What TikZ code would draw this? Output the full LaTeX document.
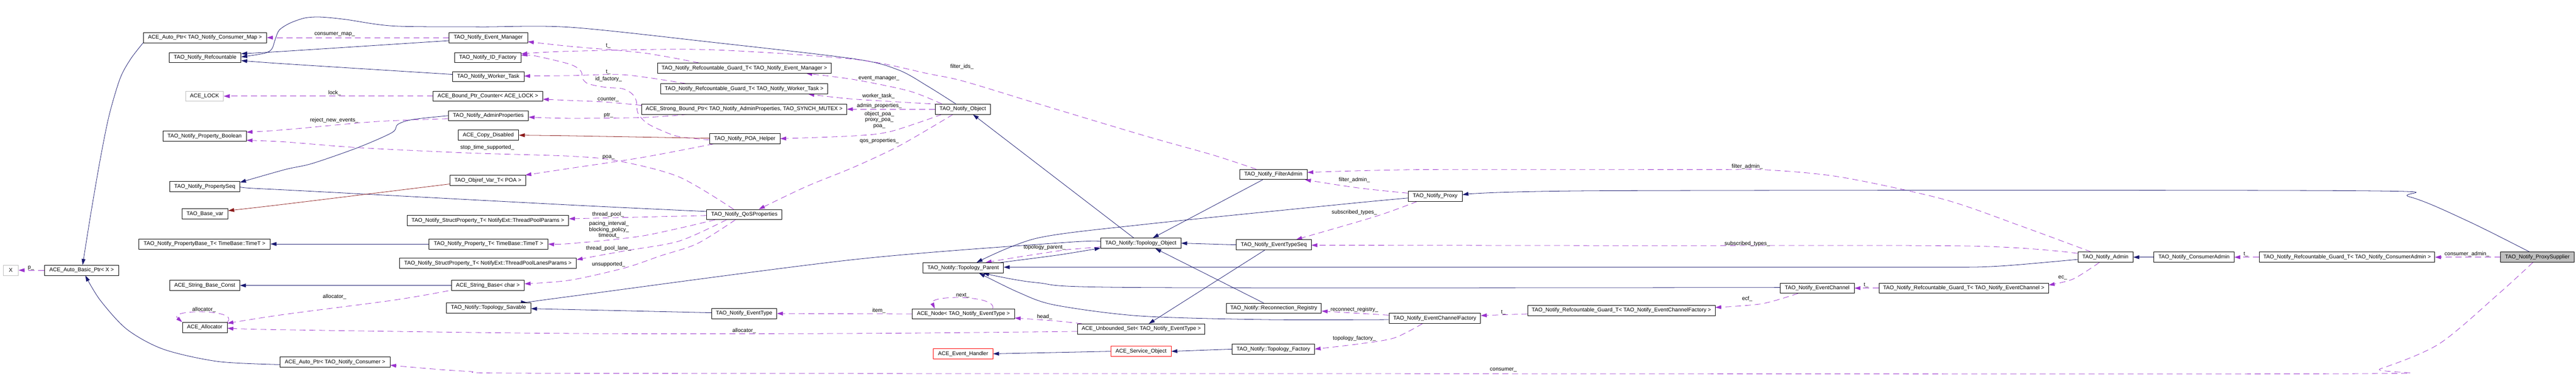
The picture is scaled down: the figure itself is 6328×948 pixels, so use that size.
\documentclass[tikz,border=0pt]{standalone}
\usepackage{fontspec}
\setmainfont{Liberation Sans}
\usetikzlibrary{arrows.meta,calc}
\pgfdeclarelayer{bg}
\pgfsetlayers{bg,main}
\definecolor{navy}{RGB}{25,25,112}
\definecolor{orch}{RGB}{154,50,205}
\definecolor{fbrick}{RGB}{139,26,26}
\definecolor{grey75}{RGB}{191,191,191}
\tikzset{
 box/.style={draw=black, line width=0.75pt, minimum height=18.75pt, inner sep=0pt, fill=white, font=\fontsize{10}{12}\selectfont},
 bw/.style={minimum width=#1*0.75pt},
 lbl/.style={inner sep=0pt, font=\fontsize{10}{11}\selectfont, align=center},
 conn/.style={line width=0.75pt, -{Triangle[length=11pt,width=7pt]}},
 inh/.style={conn, navy},
 prv/.style={conn, fbrick},
 use/.style={conn, orch, dash pattern=on 11pt off 7pt},
 sm/.style={smooth, tension=0.5}
}
\begin{document}
\begin{tikzpicture}[x=0.75pt,y=-0.75pt]
\useasboundingbox (0,0) rectangle (6328,948);
% ---- nodes
\node[box,bw=303] (AutoPtrCM) at (503.5,92.5) {ACE\_Auto\_Ptr< TAO\_Notify\_Consumer\_Map >};
\node[box,bw=176] (Refcountable) at (504,141.5) {TAO\_Notify\_Refcountable};
\node[box,bw=93,draw=grey75] (ACELOCK) at (502.5,236.5) {ACE\_LOCK};
\node[box,bw=205] (PropBool) at (502.5,335) {TAO\_Notify\_Property\_Boolean};
\node[box,bw=172] (PropSeq) at (503,458.5) {TAO\_Notify\_PropertySeq};
\node[box,bw=113] (BaseVar) at (503.5,526) {TAO\_Base\_var};
\node[box,bw=323] (PropBaseT) at (502.5,600) {TAO\_Notify\_PropertyBase\_T< TimeBase::TimeT >};
\node[box,bw=37,draw=grey75] (X) at (26.5,664.5) {X};
\node[box,bw=183] (AutoBasicPtr) at (200.5,664.5) {ACE\_Auto\_Basic\_Ptr< X >};
\node[box,bw=172] (StrBaseConst) at (503,702) {ACE\_String\_Base\_Const};
\node[box,bw=110] (Allocator) at (503,805) {ACE\_Allocator};
\node[box,bw=270] (AutoPtrC) at (823,890.5) {ACE\_Auto\_Ptr< TAO\_Notify\_Consumer >};
\node[box,bw=193] (EventManager) at (1199.5,92.5) {TAO\_Notify\_Event\_Manager};
\node[box,bw=163] (IDFactory) at (1198.5,141.5) {TAO\_Notify\_ID\_Factory};
\node[box,bw=175] (WorkerTask) at (1199.5,188.5) {TAO\_Notify\_Worker\_Task};
\node[box,bw=269] (BoundPtrCounter) at (1198.5,236.5) {ACE\_Bound\_Ptr\_Counter< ACE\_LOCK >};
\node[box,bw=197] (AdminProps) at (1199.5,284.5) {TAO\_Notify\_AdminProperties};
\node[box,bw=149] (CopyDisabled) at (1199.5,332.5) {ACE\_Copy\_Disabled};
\node[box,bw=187] (ObjrefVar) at (1198.5,443.5) {TAO\_Objref\_Var\_T< POA >};
\node[box,bw=397] (StructTP) at (1198.5,542.5) {TAO\_Notify\_StructProperty\_T< NotifyExt::ThreadPoolParams >};
\node[box,bw=292] (PropT) at (1200,600) {TAO\_Notify\_Property\_T< TimeBase::TimeT >};
\node[box,bw=435] (StructTPL) at (1198.5,647.5) {TAO\_Notify\_StructProperty\_T< NotifyExt::ThreadPoolLanesParams >};
\node[box,bw=179] (StrBaseChar) at (1198.5,702) {ACE\_String\_Base< char >};
\node[box,bw=208] (TopoSavable) at (1200,757) {TAO\_Notify::Topology\_Savable};
\node[box,bw=427] (GuardEM) at (1828.5,167.5) {TAO\_Notify\_Refcountable\_Guard\_T< TAO\_Notify\_Event\_Manager >};
\node[box,bw=410] (GuardWT) at (1828,218.5) {TAO\_Notify\_Refcountable\_Guard\_T< TAO\_Notify\_Worker\_Task >};
\node[box,bw=504] (StrongBP) at (1828,268.5) {ACE\_Strong\_Bound\_Ptr< TAO\_Notify\_AdminProperties, TAO\_SYNCH\_MUTEX >};
\node[box,bw=173] (POAHelper) at (1829.5,341) {TAO\_Notify\_POA\_Helper};
\node[box,bw=185] (QoS) at (1828.5,527.5) {TAO\_Notify\_QoSProperties};
\node[box,bw=160] (EventType) at (1828,771) {TAO\_Notify\_EventType};
\node[box,bw=136] (Object) at (2365,268.5) {TAO\_Notify\_Object};
\node[box,bw=198] (TopoParent) at (2366,658.5) {TAO\_Notify::Topology\_Parent};
\node[box,bw=251] (ACENode) at (2366.5,772) {ACE\_Node< TAO\_Notify\_EventType >};
\node[box,bw=146,draw=red] (EventHandler) at (2366,870) {ACE\_Event\_Handler};
\node[box,bw=197] (TopoObject) at (2802.5,598) {TAO\_Notify::Topology\_Object};
\node[box,bw=313] (UnbSet) at (2803.5,809) {ACE\_Unbounded\_Set< TAO\_Notify\_EventType >};
\node[box,bw=148,draw=red] (ServiceObject) at (2803,864) {ACE\_Service\_Object};
\node[box,bw=166] (FilterAdmin) at (3128,429) {TAO\_Notify\_FilterAdmin};
\node[box,bw=184] (EventTypeSeq) at (3129,602) {TAO\_Notify\_EventTypeSeq};
\node[box,bw=234] (ReconnReg) at (3129,758) {TAO\_Notify::Reconnection\_Registry};
\node[box,bw=202] (TopoFactory) at (3128,858.5) {TAO\_Notify::Topology\_Factory};
\node[box,bw=133] (Proxy) at (3525.5,482.5) {TAO\_Notify\_Proxy};
\node[box,bw=225] (ECF) at (3524.5,783) {TAO\_Notify\_EventChannelFactory};
\node[box,bw=460] (GuardECF) at (3983,763.5) {TAO\_Notify\_Refcountable\_Guard\_T< TAO\_Notify\_EventChannelFactory >};
\node[box,bw=182] (EventChannel) at (4464,708.5) {TAO\_Notify\_EventChannel};
\node[box,bw=416] (GuardEC) at (4824,708.5) {TAO\_Notify\_Refcountable\_Guard\_T< TAO\_Notify\_EventChannel >};
\node[box,bw=136] (Admin) at (5172,632.5) {TAO\_Notify\_Admin};
\node[box,bw=197] (ConsumerAdmin) at (5389.5,632.5) {TAO\_Notify\_ConsumerAdmin};
\node[box,bw=431] (GuardCA) at (5765.5,632.5) {TAO\_Notify\_Refcountable\_Guard\_T< TAO\_Notify\_ConsumerAdmin >};
\node[box,bw=180,fill=grey75] (ProxySupplier) at (6233,632.5) {TAO\_Notify\_ProxySupplier};
% ---- edges
\begin{pgfonlayer}{bg}
\draw[inh] plot[sm] coordinates {(AutoPtrCM.south west) (321,145) (295,193) (268,284) (246,393) (223,526) ($(AutoBasicPtr.north)+(2.5,0)$)};
\draw[inh] plot[sm] coordinates {($(AutoPtrC.west)+(0,6)$) (536,889) (402,859) (312,810) (246,738) ($(AutoBasicPtr.south)+(9,0)$)};
\draw[use] (AutoBasicPtr.west) -- (X.east);
\draw[use] (EventManager.west) -- (AutoPtrCM.east);
\draw[inh] plot[sm] coordinates {($(Object.north)+(-17,0)$) (2279,212) (2207,172) (2100,145) (1750,104) (1400,67) (1178,66) (968,64) (850,48) (790,42) (750,44) (712,57) (686,74) (676,97) (668,120) (650,131) ($(Refcountable.east)+(0,-1.5)$)};
\draw[inh] plot[sm] coordinates {($(EventManager.west)+(0,7.5)$) (700,126) ($(Refcountable.east)+(0,-9.5)$)};
\draw[inh] plot[sm] coordinates {($(WorkerTask.west)+(0,-5.5)$) (700,157) ($(Refcountable.east)+(0,7.5)$)};
\draw[use] (BoundPtrCounter.west) -- (ACELOCK.east);
\draw[use] plot[sm] coordinates {($(AdminProps.west)+(0,7.5)$) (923,299) (700,319) ($(PropBool.east)+(0,-10)$)};
\draw[use] plot[sm] coordinates {($(QoS.north)+(-26.5,0)$) (1668,435) (1520,396) (1400,384) (1146,376) (879,363) (700,349) ($(PropBool.east)+(0,10)$)};
\draw[inh] plot[sm] coordinates {(AdminProps.west) (1013,294) (977,306) (963,326) (879,363) (767,402) (700,417) ($(PropSeq.east)+(0,-10)$)};
\draw[inh] plot[sm] coordinates {($(QoS.west)+(0,-7.5)$) (1400,504) (700,467) ($(PropSeq.east)+(0,4.5)$)};
\draw[prv] plot[sm] coordinates {($(ObjrefVar.west)+(0,9)$) (700,502) ($(BaseVar.east)+(0,-8)$)};
\draw[inh] (PropT.west) -- (PropBaseT.east);
\draw[inh] (StrBaseChar.west) -- (StrBaseConst.east);
\draw[use] (Allocator.north east) .. controls (590,760) and (410,760) .. (Allocator.north west);
\draw[use] plot[sm] coordinates {($(StrBaseChar.south west)+(-7,0)$) (968,738) (700,773) ($(Allocator.east)+(0,-10)$)};
\draw[use] plot[sm] coordinates {($(UnbSet.west)+(0,6)$) (2100,820) (1400,820) (700,811) ($(Allocator.east)+(0,2)$)};
\draw[use] plot[sm] coordinates {($(ProxySupplier.south)+(-11,0)$) (6135,725) (5991,846) (5847,907) (5776,919) (3700,919) (1400,918) (1146,913) ($(AutoPtrC.east)+(0,7.5)$)};
\draw[use] plot[sm] coordinates {($(GuardEM.north west)+(102,0)$) (1579,130) (1400,114) ($(EventManager.east)+(0,10)$)};
\draw[use] plot[sm] coordinates {($(POAHelper.west)+(0,3)$) (1668,336) (1623,320) (1588,302) (1567,278) (1563,248) (1552,230) (1529,218) (1489,215) (1445,206) (1431,193) (1427,175) (1400,158) (1312,137) ($(IDFactory.east)+(0,-5)$)};
\draw[use] plot[sm] coordinates {($(FilterAdmin.north)+(-42,0)$) (2979,381) (2809,333) (2546,254) (2368,200) (2279,181) (2100,146) (1735,122) (1400,126) ($(IDFactory.east)+(0,-9)$)};
\draw[use] plot[sm] coordinates {($(GuardWT.north west)+(63,0)$) (1534,184) (1400,186) ($(WorkerTask.east)+(0,-1.5)$)};
\draw[use] plot[sm] coordinates {($(StrongBP.west)+(0,-9.5)$) (1489,251) (1400,247) ($(BoundPtrCounter.east)+(0,7.5)$)};
\draw[use] plot[sm] coordinates {($(StrongBP.south west)+(114,0)$) (1579,289) (1400,291) ($(AdminProps.east)+(0,3.5)$)};
\draw[prv] plot[sm] coordinates {($(POAHelper.west)+(0,-1)$) (1400,334) (CopyDisabled.east)};
\draw[use] plot[sm] coordinates {($(POAHelper.south west)+(10,0)$) (1579,387) (1400,414) ($(ObjrefVar.north east)+(-2,0)$)};
\draw[use] ($(QoS.west)+(0,2.5)$) -- ($(StructTP.east)+(0,-4.5)$);
\draw[use] plot[sm] coordinates {($(QoS.south west)+(21,0)$) (1579,580) (1400,599) (PropT.east)};
\draw[use] plot[sm] coordinates {($(QoS.south)+(-44,0)$) (1668,593) (1534,617) ($(StructTPL.east)+(0,-9)$)};
\draw[use] plot[sm] coordinates {($(QoS.south)+(-22,0)$) (1713,599) (1623,629) (1534,659) (1400,689) ($(StrBaseChar.east)+(0,-4)$)};
\draw[use] plot[sm] coordinates {($(Object.north west)+(17,0)$) (2234,224) (2100,196) ($(GuardEM.south east)+(-62,0)$)};
\draw[use] plot[sm] coordinates {($(Object.north west)+(13,1)$) (2100,244) ($(GuardWT.south east)+(-48,0)$)};
\draw[use] (Object.west) -- (StrongBP.east);
\draw[use] plot[sm] coordinates {($(Object.south west)+(17,0)$) (2189,323) (2100,334) (POAHelper.east)};
\draw[use] plot[sm] coordinates {($(Object.south)+(-24,0)$) (2212,357) (2100,410) (1980,459) ($(QoS.north)+(35.5,0)$)};
\draw[use] (ACENode.west) -- (EventType.east);
\draw[inh] ($(EventType.west)+(0,-2)$) -- ($(TopoSavable.east)+(0,2)$);
\draw[inh] plot[sm] coordinates {($(TopoObject.west)+(0,-4)$) (2620,596) (2100,638) (1400,729) ($(TopoSavable.north east)+(-10,0)$)};
\draw[inh] plot[sm] coordinates {($(TopoParent.north east)+(-8,0)$) (2600,627) ($(TopoObject.south west)+(0,-1)$)};
\draw[use] plot[sm] coordinates {($(TopoObject.west)+(0,9)$) (2645,612) (2613,615) (2502,632) ($(TopoParent.north)+(55,0)$)};
\draw[inh] plot[sm] coordinates {($(Proxy.west)+(0,4.5)$) (3300,502) (2800,553) (2546,586) ($(TopoParent.north)+(33,0)$)};
\draw[inh] ($(Admin.west)+(0,5.5)$) .. controls (4950,652) and (4900,657) .. (4830,657) -- ($(TopoParent.east)+(0,-1.5)$);
\draw[inh] plot[sm] coordinates {($(EventChannel.west)+(0,-1.5)$) (2800,707) (2546,695) ($(TopoParent.south)+(49,0)$)};
\draw[inh] plot[sm] coordinates {($(ECF.west)+(0,3)$) (3112,786) (2800,777) (2591,750) (2502,719) ($(TopoParent.south)+(39,0)$)};
\draw[inh] ($(TopoObject.north)+(-17.5,0)$) -- ($(Object.south)+(25,0)$);
\draw[inh] ($(FilterAdmin.south)+(-26,0)$) -- ($(TopoObject.north)+(29.5,0)$);
\draw[inh] (EventTypeSeq.west) -- (TopoObject.east);
\draw[inh] ($(ReconnReg.north)+(-25,0)$) -- ($(TopoObject.south)+(35.5,0)$);
\draw[inh] ($(EventTypeSeq.south)+(-22,0)$) -- ($(UnbSet.north)+(18.5,0)$);
\draw[use] ($(ACENode.north)+(72,0)$) .. controls (2450,725) and (2280,725) .. ($(ACENode.north)+(-70,0)$);
\draw[use] plot[sm] coordinates {($(UnbSet.north west)+(11,0)$) (2591,789) ($(ACENode.east)+(0,10)$)};
\draw[inh] (ServiceObject.west) -- (EventHandler.east);
\draw[inh] (TopoFactory.west) -- (ServiceObject.east);
\draw[use] plot[sm] coordinates {($(Admin.north)+(-35,0)$) (4965,556) (4774,490) (4519,435) (4328,417) (4200,417) (3500,417) ($(FilterAdmin.east)+(0,-5)$)};
\draw[use] plot[sm] coordinates {($(Proxy.west)+(0,-7.5)$) (3336,462) ($(FilterAdmin.south east)+(-6,0)$)};
\draw[use] plot[sm] coordinates {($(Proxy.south)+(-44.5,0)$) (3380,532) ($(EventTypeSeq.north)+(55,0)$)};
\draw[use] plot[sm] coordinates {($(Admin.west)+(0,-9.5)$) (4838,605) (4000,604) ($(EventTypeSeq.east)+(0,1)$)};
\draw[use] ($(ECF.west)+(0,-8)$) -- ($(ReconnReg.east)+(0,7)$);
\draw[use] plot[sm] coordinates {($(ECF.south)+(-30.5,0)$) (3425,831) (3336,846) (TopoFactory.east)};
\draw[use] ($(GuardECF.west)+(0,8.5)$) -- ($(ECF.east)+(0,-7)$);
\draw[use] plot[sm] coordinates {($(EventChannel.south)+(-47,0)$) (4328,747) ($(GuardECF.east)+(0,-7.5)$)};
\draw[use] (GuardEC.west) -- (EventChannel.east);
\draw[use] plot[sm] coordinates {($(Admin.south)+(-15,0)$) (5093,686) ($(GuardEC.east)+(0,-7.5)$)};
\draw[inh] (ConsumerAdmin.west) -- (Admin.east);
\draw[use] (GuardCA.west) -- (ConsumerAdmin.east);
\draw[use] (ProxySupplier.west) -- (GuardCA.east);
\draw[inh] plot[sm] coordinates {($(ProxySupplier.north)+(-19,0)$) (6063,544) (5919,484) (5776,469) (3946,469) ($(Proxy.east)+(0,-3.5)$)};
\end{pgfonlayer}
% ---- labels
\node[lbl] (l01) at (76,659) {p\_};
\node[lbl] (l02) at (822,85) {consumer\_map\_};
\node[lbl] (l03) at (822,229) {lock\_};
\node[lbl] (l04) at (821,296) {reject\_new\_events\_};
\node[lbl] (l05) at (1197,363) {stop\_time\_supported\_};
\node[lbl] (l06) at (822,730) {allocator\_};
\node[lbl] (l07) at (501,761) {allocator\_};
\node[lbl] (l08) at (1828,813) {allocator\_};
\node[lbl] (l09) at (1494,113) {t\_};
\node[lbl] (l10) at (1494,177) {t\_};
\node[lbl] (l11) at (1495,195) {id\_factory\_};
\node[lbl] (l12) at (1494,244) {counter\_};
\node[lbl] (l13) at (1495,284) {ptr\_};
\node[lbl] (l14) at (1495,387) {poa\_};
\node[lbl] (l15) at (1494,527) {thread\_pool\_};
\node[lbl] (l16) at (1496,565) {pacing\_interval\_\\blocking\_policy\_\\timeout\_};
\node[lbl] (l17) at (1495,611) {thread\_pool\_lane\_};
\node[lbl] (l18) at (1495,650) {unsupported\_};
\node[lbl] (l19) at (2363,164) {filter\_ids\_};
\node[lbl] (l20) at (2159,192) {event\_manager\_};
\node[lbl] (l21) at (2158,236) {worker\_task\_};
\node[lbl] (l22) at (2160,261) {admin\_properties\_};
\node[lbl] (l23) at (2160,295) {object\_poa\_\\proxy\_poa\_\\poa\_};
\node[lbl] (l24) at (2160,346) {qos\_properties\_};
\node[lbl] (l25) at (2566,609) {topology\_parent\_};
\node[lbl] (l26) at (2365,727) {next\_};
\node[lbl] (l27) at (2566,779) {head\_};
\node[lbl] (l28) at (2159,764) {item\_};
\node[lbl] (l29) at (4292,410) {filter\_admin\_};
\node[lbl] (l30) at (3327,443) {filter\_admin\_};
\node[lbl] (l31) at (3327,522) {subscribed\_types\_};
\node[lbl] (l32) at (4292,599) {subscribed\_types\_};
\node[lbl] (l33) at (3327,761) {reconnect\_registry\_};
\node[lbl] (l34) at (3327,833) {topology\_factory\_};
\node[lbl] (l35) at (3693,768) {t\_};
\node[lbl] (l36) at (4292,735) {ecf\_};
\node[lbl] (l37) at (4584,701) {t\_};
\node[lbl] (l38) at (5067,683) {ec\_};
\node[lbl] (l39) at (5517,625) {t\_};
\node[lbl] (l40) at (6060,625) {consumer\_admin\_};
\node[lbl] (l41) at (3693,910) {consumer\_};
\end{tikzpicture}
\end{document}
